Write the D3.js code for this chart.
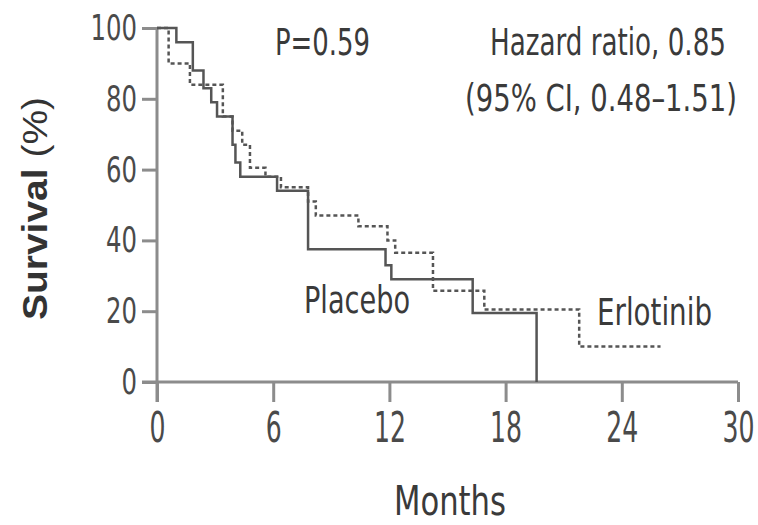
<!DOCTYPE html>
<html>
<head>
<meta charset="utf-8">
<title>Survival - Erlotinib vs Placebo</title>
<style>
body { margin: 0; background: #fff; }
svg { display: block; background: #fff; }
.axis path { display: none; }
.axis line { stroke: #8c8c8c; stroke-width: 3px; }
.axis text { font-family: "Liberation Sans Narrow", "DejaVu Sans Condensed", sans-serif; fill: #4a4a4a; }
.note { font-family: "Liberation Sans Narrow", "DejaVu Sans Condensed", sans-serif; fill: #3a3a3a; font-size: 37px; }
.curve { fill: none; stroke: #555; stroke-width: 2.5px; }
</style>
</head>
<body>
<svg width="758" height="525"></svg>
<script src="https://d3js.org/d3.v7.min.js"></script>
<script>
// Kaplan-Meier steps: months, survival (%)
var placeboMonths = [0, 1.0, 1.85, 2.4, 2.8, 3.1, 3.9, 4.05, 4.3, 6.2, 7.8, 11.8, 12.1, 16.3, 19.6];
var placeboSurv   = [100, 96, 88, 83, 79, 75, 67, 62, 58, 54, 37.5, 33, 29, 19.5, 0];

var erlotinibMonths = [0, 0.6, 1.7, 3.4, 3.9, 4.4, 4.8, 5.6, 6.4, 7.8, 8.2, 10.4, 11.9, 12.3, 14.25, 16.9, 21.8, 26];
var erlotinibSurv   = [100, 90, 84, 75, 71, 67, 60.5, 58, 55, 51, 47, 44, 40, 36.5, 25.8, 20.5, 10, 10];

var xTicks = [0, 6, 12, 18, 24, 30];
var yTicks = [0, 20, 40, 60, 80, 100];

var svg = d3.select("svg");

var x = d3.scaleLinear().domain([0, 30]).range([157, 738]);
var y = d3.scaleLinear().domain([0, 100]).range([382, 28]);

// axis lines run past the origin by one tick length, like the original
svg.append("line")
    .attr("x1", x(0) - 15).attr("x2", x(30))
    .attr("y1", y(0)).attr("y2", y(0))
    .attr("stroke", "#8c8c8c").attr("stroke-width", 3);
svg.append("line")
    .attr("x1", x(0)).attr("x2", x(0))
    .attr("y1", y(100) - 1).attr("y2", y(0) + 20)
    .attr("stroke", "#8c8c8c").attr("stroke-width", 3);

var xAxis = svg.append("g")
    .attr("class", "axis")
    .attr("transform", "translate(0," + y(0) + ")")
    .call(d3.axisBottom(x).tickValues(xTicks).tickSize(20).tickSizeOuter(0));
xAxis.selectAll("text")
    .attr("y", 60).attr("dy", null)
    .attr("textLength", function(d) { return String(d).length * 16; })
    .attr("lengthAdjust", "spacingAndGlyphs")
    .style("font-size", "42px");

var yAxis = svg.append("g")
    .attr("class", "axis")
    .attr("transform", "translate(" + x(0) + ",0)")
    .call(d3.axisLeft(y).tickValues(yTicks).tickSize(15).tickPadding(5).tickSizeOuter(0));
yAxis.selectAll("text")
    .attr("dy", "0.32em")
    .attr("textLength", function(d) { return String(d).length * 15.5; })
    .attr("lengthAdjust", "spacingAndGlyphs")
    .style("font-size", "36px");

function steps(months, surv) {
  return months.map(function(m, i) { return [m, surv[i]]; });
}

var line = d3.line()
    .curve(d3.curveStepAfter)
    .x(function(d) { return x(d[0]); })
    .y(function(d) { return y(d[1]); });

svg.append("path")
    .attr("class", "curve")
    .attr("d", line(steps(placeboMonths, placeboSurv)));

svg.append("path")
    .attr("class", "curve")
    .attr("stroke-dasharray", "4,3")
    .attr("d", line(steps(erlotinibMonths, erlotinibSurv)));

// labels
svg.append("text").attr("class", "note")
    .attr("x", 275).attr("y", 55)
    .attr("textLength", 95).attr("lengthAdjust", "spacingAndGlyphs")
    .text("P=0.59");

svg.append("text").attr("class", "note")
    .attr("x", 490).attr("y", 55)
    .attr("textLength", 236).attr("lengthAdjust", "spacingAndGlyphs")
    .text("Hazard ratio, 0.85");

svg.append("text").attr("class", "note")
    .attr("x", 465).attr("y", 111)
    .attr("textLength", 272).attr("lengthAdjust", "spacingAndGlyphs")
    .text("(95% CI, 0.48\u20131.51)");

svg.append("text").attr("class", "note")
    .attr("x", 304).attr("y", 313)
    .attr("textLength", 106).attr("lengthAdjust", "spacingAndGlyphs")
    .text("Placebo");

svg.append("text").attr("class", "note")
    .attr("x", 597).attr("y", 325)
    .attr("textLength", 115).attr("lengthAdjust", "spacingAndGlyphs")
    .text("Erlotinib");

svg.append("text").attr("class", "note")
    .attr("x", 394).attr("y", 515)
    .attr("textLength", 112).attr("lengthAdjust", "spacingAndGlyphs")
    .style("font-size", "40px")
    .text("Months");

var ylab = svg.append("text")
    .attr("transform", "translate(47,320) rotate(-90)")
    .attr("textLength", 223).attr("lengthAdjust", "spacingAndGlyphs")
    .style("font-family", "'Liberation Sans', Arial, sans-serif")
    .style("font-size", "35px")
    .attr("fill", "#333");
ylab.append("tspan").attr("font-weight", "bold").text("Survival");
ylab.append("tspan").text(" (%)");
</script>
</body>
</html>
